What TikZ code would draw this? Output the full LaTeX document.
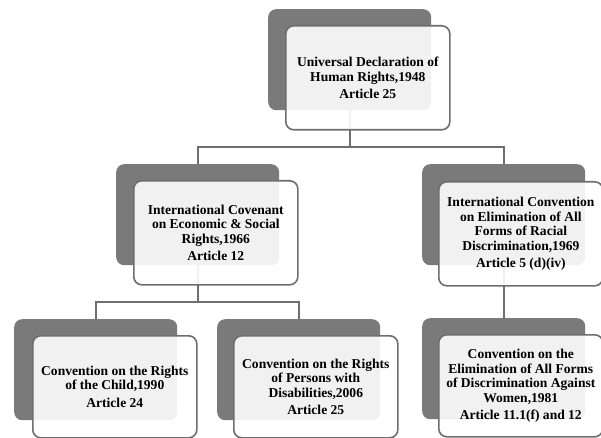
\documentclass[tikz,border=0pt]{standalone}
\usepackage{fontspec}
\setmainfont{Liberation Serif}
\usetikzlibrary{backgrounds}
\definecolor{shade}{RGB}{122,122,122}
\definecolor{edge}{RGB}{110,110,110}
\tikzset{
  back/.style={fill=shade, draw=none, rounded corners=8bp, anchor=north west,
    minimum width=163bp, minimum height=101bp, inner sep=0pt},
  card/.style={draw=edge, line width=1.6bp, fill=white, fill opacity=0.9, text opacity=1,
    rounded corners=8bp, anchor=north west, minimum width=164bp, minimum height=104bp,
    inner sep=0pt, align=center, font=\bfseries\fontsize{13.6}{14.6}\selectfont},
  low/.style={minimum height=102bp},
  link/.style={draw=edge, line width=1.8bp},
}
\begin{document}
\begin{tikzpicture}[x=1bp,y=-1bp]
\useasboundingbox (0,0) rectangle (601,438);
% top
\node[back] (topD) at (268,9) {};
\node[card] (topW) at (285,25) {Universal Declaration of\\Human Rights,1948\\[3bp]Article 25};
% middle left
\node[back] (mlD) at (116,164) {};
\node[card] (mlW) at (133,180) {International Covenant\\on Economic \& Social\\Rights,1966\\[3bp]Article 12};
% middle right
\node[back] (mrD) at (422,164) {};
\node[card] (mrW) at (438,181) {International Convention\\on Elimination of All\\Forms of Racial\\Discrimination,1969\\[3bp]Article 5 (d)(iv)};
% bottom left
\node[back] (blD) at (14,319) {};
\node[card,low] (blW) at (32,335) {Convention on the Rights\\of the Child,1990\\[3bp]Article 24};
% bottom middle
\node[back] (bmD) at (217,319) {};
\node[card,low] (bmW) at (233,335) {Convention on the Rights\\of Persons with\\Disabilities,2006\\[3bp]Article 25};
% bottom right
\node[back] (brD) at (422,318) {};
\node[card,low] (brW) at (438,334) {Convention on the\\Elimination of All Forms\\of Discrimination Against\\Women,1981\\[3bp]Article 11.1(f) and 12};
\coordinate (bar1) at (0,147);
\coordinate (bar2) at (0,302);
\begin{pgfonlayer}{background}
\draw[link] (topD.center) -- (topD.center |- bar1);
\draw[link] (mlD.center) |- (bar1 -| mrD.center) -- (mrD.center);
\draw[link] (mlD.center) -- (mlD.center |- bar2);
\draw[link] (blD.center) |- (bar2 -| bmD.center) -- (bmD.center);
\draw[link] (mrD.center) -- (brD.center);
\end{pgfonlayer}
\end{tikzpicture}
\end{document}
